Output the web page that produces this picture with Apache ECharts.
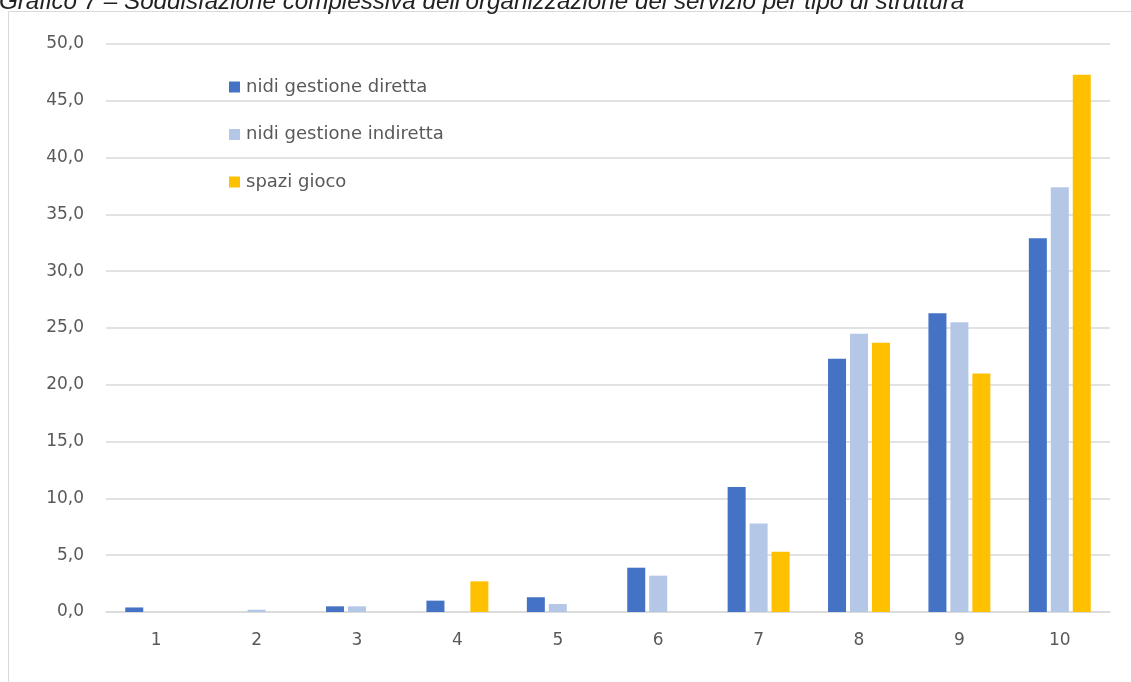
<!DOCTYPE html>
<html>
<head>
<meta charset="utf-8">
<style>
  html, body { margin: 0; padding: 0; background: #fff; }
  #chart { width: 1131px; height: 682px; }
</style>
<script src="https://cdn.jsdelivr.net/npm/echarts@6/dist/echarts.min.js"></script>
</head>
<body>
<div id="chart"></div>
<script>
// Punteggi 1–10 e quota di risposte (%) per tipo di struttura
const categories = ['1', '2', '3', '4', '5', '6', '7', '8', '9', '10'];
const nidiDiretta = [0.4, 0, 0.5, 1.0, 1.3, 3.9, 11.0, 22.3, 26.3, 32.9];
const nidiIndiretta = [0, 0.2, 0.5, 0, 0.7, 3.2, 7.8, 24.5, 25.5, 37.4];
const spaziGioco = [0, 0, 0, 2.7, 0, 0, 5.3, 23.7, 21.0, 47.3];
const seriesNames = ['nidi gestione diretta', 'nidi gestione indiretta', 'spazi gioco'];
const titleText = 'Grafico 7 – Soddisfazione complessiva dell\u2019organizzazione del servizio per tipo di struttura';

const chart = echarts.init(document.getElementById('chart'));
const font = '"DejaVu Sans", "Noto Sans", sans-serif';

function barSeries(name, data, color) {
  return {
    name: name,
    type: 'bar',
    data: data,
    barWidth: 18,
    barGap: '22%',
    itemStyle: { color: color },
    emphasis: { disabled: true }
  };
}

chart.setOption({
  animation: false,
  color: ['#4472C4', '#B4C7E7', '#FFC000'],
  graphic: [
    {
      type: 'rect',
      shape: { x: 8.5, y: 11.5, width: 1140, height: 700 },
      style: { fill: 'none', stroke: '#d9d9d9', lineWidth: 1 },
      silent: true
    },
    {
      type: 'text',
      x: -1,
      y: 14,
      style: {
        text: titleText,
        font: 'italic 24.2px "Liberation Sans", Arial, sans-serif',
        fill: '#222',
        verticalAlign: 'bottom'
      },
      silent: true
    }
  ],
  legend: {
    orient: 'vertical',
    left: 229,
    top: 78,
    padding: 0,
    itemWidth: 11,
    itemHeight: 11,
    itemGap: 29.5,
    icon: 'rect',
    textStyle: { fontFamily: font, fontSize: 18, color: '#595959', padding: [0, 0, 0, 1] },
    data: seriesNames
  },
  grid: { left: 106, right: 21, top: 44, bottom: 70 },
  xAxis: {
    type: 'category',
    data: categories,
    axisTick: { show: false },
    axisLine: { lineStyle: { color: '#d9d9d9', width: 1.5 } },
    axisLabel: { fontFamily: font, fontSize: 17, color: '#595959', margin: 20 }
  },
  yAxis: {
    type: 'value',
    min: 0,
    max: 50,
    interval: 5,
    axisLine: { show: false },
    axisTick: { show: false },
    splitLine: { lineStyle: { color: '#d9d9d9', width: 1.5 } },
    axisLabel: {
      fontFamily: font,
      fontSize: 17,
      color: '#595959',
      margin: 22,
      formatter: v => v.toFixed(1).replace('.', ',')
    }
  },
  series: [
    barSeries(seriesNames[0], nidiDiretta, '#4472C4'),
    barSeries(seriesNames[1], nidiIndiretta, '#B4C7E7'),
    barSeries(seriesNames[2], spaziGioco, '#FFC000')
  ]
});
</script>
</body>
</html>
